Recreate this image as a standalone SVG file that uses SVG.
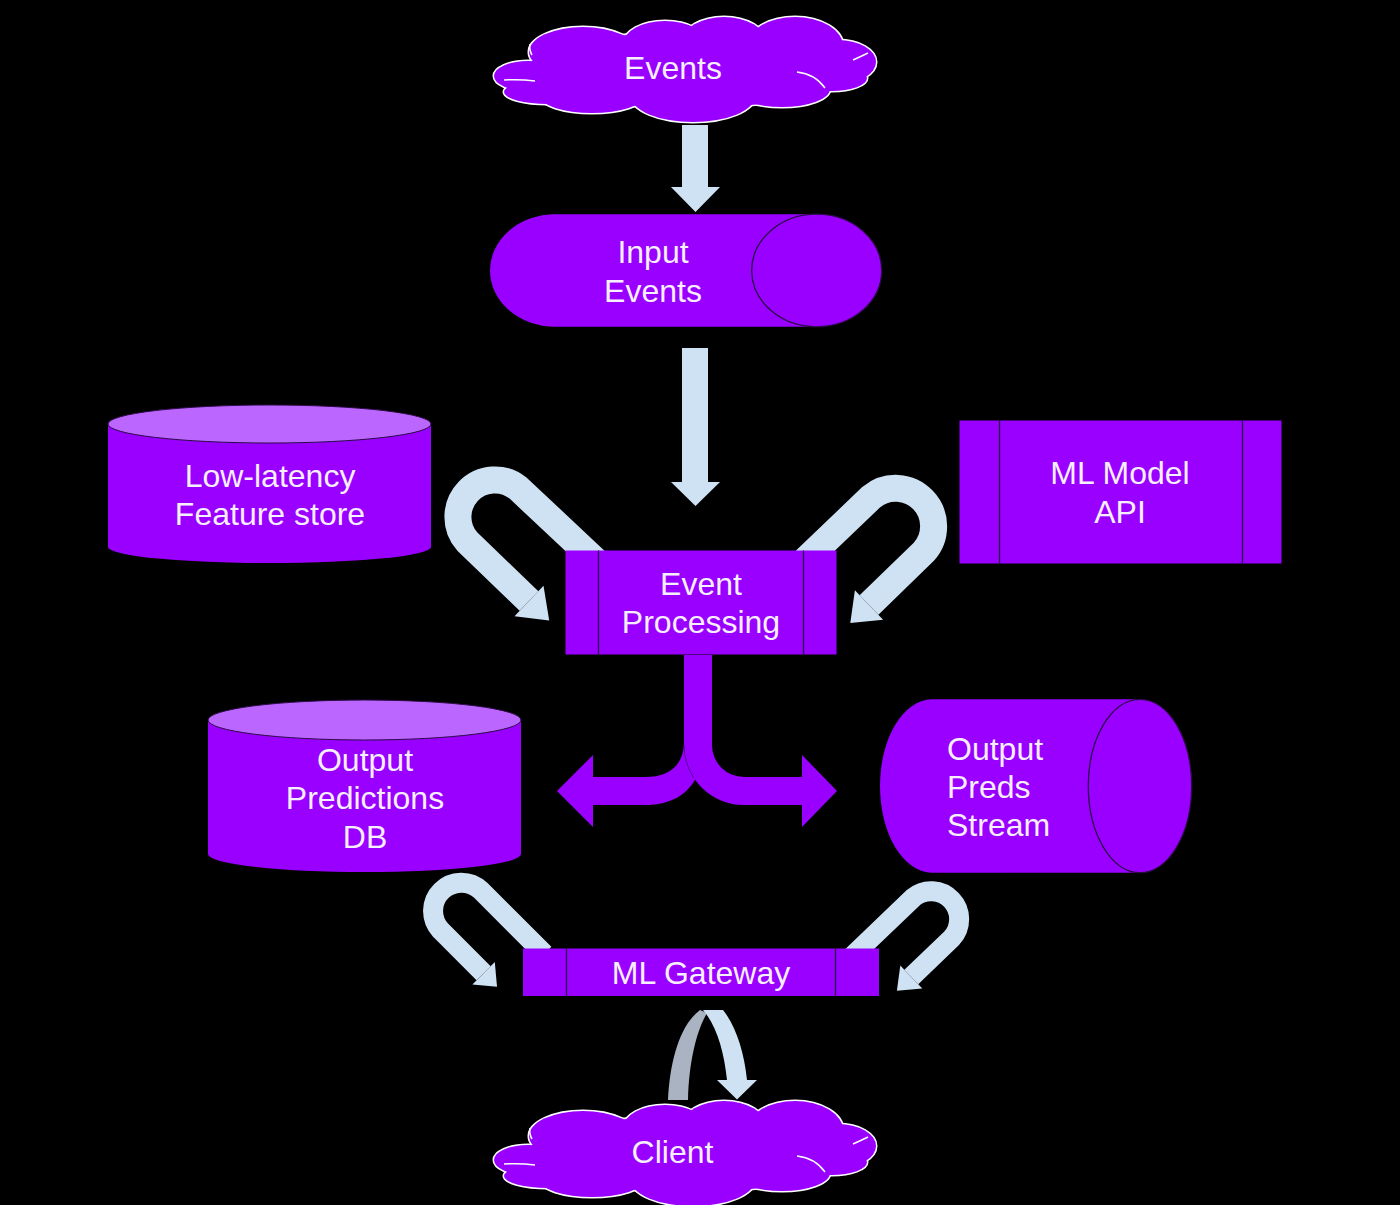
<svg xmlns="http://www.w3.org/2000/svg" xmlns:xlink="http://www.w3.org/1999/xlink" width="1400" height="1205" viewBox="0 0 1400 1205">
<style>
.p{fill:#9900FF}
.top{fill:#BB66FF;stroke:#2b0b45;stroke-width:1}
.edge{fill:none;stroke:#2b0b45;stroke-width:1.3}
.lt{fill:#CFE2F3}
.band{fill:none;stroke:#CFE2F3;stroke-linecap:butt;stroke-linejoin:round}
.t{font-family:"Liberation Sans",Arial,sans-serif;font-size:32px;fill:#F7EEFF;text-anchor:middle}
.tl{font-family:"Liberation Sans",Arial,sans-serif;font-size:32px;fill:#F7EEFF;text-anchor:start}
.cloudline{fill:none;stroke:#FFFFFF;stroke-width:1.5}
</style>
<defs>
<g id="cloudShape">
<ellipse cx="528" cy="76" rx="34" ry="15"/>
<ellipse cx="548" cy="92" rx="44" ry="12"/>
<ellipse cx="583" cy="52" rx="54" ry="25"/>
<ellipse cx="665" cy="44" rx="42" ry="23"/>
<ellipse cx="724" cy="42" rx="42" ry="25"/>
<ellipse cx="795" cy="46" rx="48" ry="29"/>
<ellipse cx="838" cy="62" rx="38" ry="22"/>
<ellipse cx="832" cy="78" rx="35" ry="13"/>
<ellipse cx="782" cy="89" rx="48" ry="18"/>
<ellipse cx="693" cy="96" rx="62" ry="26"/>
<ellipse cx="592" cy="96" rx="52" ry="17"/>
<ellipse cx="688" cy="70" rx="160" ry="38"/>
</g>
<g id="cloud">
<use xlink:href="#cloudShape" href="#cloudShape" fill="#FFFFFF" stroke="#FFFFFF" stroke-width="3"/>
<use xlink:href="#cloudShape" href="#cloudShape" fill="#9900FF"/>
<path class="cloudline" d="M797,72 Q815,74 825,88"/>
<path class="cloudline" d="M853,60 Q862,56 868,53"/>
<path class="cloudline" d="M504,80 Q520,79 535,81"/>
<path class="cloudline" d="M530,44 Q529,50 532,55"/>
</g>
</defs>
<rect x="0" y="0" width="1400" height="1205" fill="#000000"/>

<g id="connectors">
<polygon class="lt" points="682,125 708,125 708,187 720,187 695.5,212 671,187 682,187"/>
<polygon class="lt" points="682,348 708,348 708,482 720,482 695.5,506 671,482 682,482"/>
<g id="uturn-feature">
<path class="band" stroke-width="27" d="M600,565 L518,488 A37 37 0 0 0 467,541.2 L529,601"/>
<polygon class="lt" points="543.5,585.8 549.2,620.4 514.5,616.2"/>
</g>
<g id="uturn-model">
<path class="band" stroke-width="27" d="M792,573 L871.3,497.1 A38 38 0 0 1 923.7,551.9 L869,605"/>
<polygon class="lt" points="854.9,590.2 850.3,623 883.1,619.8"/>
</g>
<g id="split">
<path class="p" d="M684,655 L712,655 L712,745 A32 32 0 0 0 744,777 L802,777 L802,755 L837,791 L802,827 L802,805 L744,805 A60 60 0 0 1 684,745 Z"/>
<path class="p" d="M684,735 C686,765 670,777 645,777 L593,777 L593,755 L557,791 L593,827 L593,805 L645,805 C670,805 688,795 697,776 Z"/>
<path d="M684,745 A60 60 0 0 0 693.9,778" fill="none" stroke="#5a0095" stroke-width="1"/>
</g>
<g id="uturn-db">
<path class="band" stroke-width="20" d="M544.3,953.9 L480.7,890.3 A28.3 28.3 0 0 0 440.7,930.3 L483.6,973.3"/>
<polygon class="lt" points="494.8,962.1 497,986.7 472.4,984.5"/>
</g>
<g id="uturn-stream">
<path class="band" stroke-width="20" d="M852,956.4 L913.2,897.7 A28 28 0 0 1 951.8,938.1 L911.3,977"/>
<polygon class="lt" points="900.3,965.5 896.9,990.8 922.3,988.5"/>
</g>
<g id="gateway-client">
<path fill="#A9B3C1" d="M668,1100 C670,1060 680,1025 700,1010 L707,1013 C697,1030 689,1060 688,1100 Z"/>
<path class="lt" d="M703,1010 L723,1010 C735,1025 744,1050 747,1080 L757,1080 L737,1099.5 L717,1080 L727,1080 C724,1050 716,1025 703,1010 Z"/>
</g>
</g>

<g id="events">
<use xlink:href="#cloud" href="#cloud"/>
<text class="t" x="673" y="79">Events</text>
</g>

<g id="input-events">
<path class="p" d="M816.7,214.2 L555,214.2 A65 56.3 0 0 0 555,326.8 L816.7,326.8 Z"/>
<ellipse class="p" cx="816.7" cy="270.5" rx="65" ry="56.3"/>
<ellipse class="edge" cx="816.7" cy="270.5" rx="65" ry="56.3"/>
<text class="t" x="653" y="263">Input</text>
<text class="t" x="653" y="301.5">Events</text>
</g>

<g id="feature-store">
<path class="p" d="M108,424 L108,547 A161.5 16 0 0 0 431,547 L431,424 Z"/>
<ellipse class="top" cx="269.5" cy="424" rx="161.5" ry="19"/>
<text class="t" x="270" y="487">Low-latency</text>
<text class="t" x="270" y="525">Feature store</text>
</g>

<g id="ml-model-api">
<rect class="p" x="959.5" y="420.5" width="322" height="143"/>
<line class="edge" x1="999.5" y1="420.5" x2="999.5" y2="563.5"/>
<line class="edge" x1="1242.5" y1="420.5" x2="1242.5" y2="563.5"/>
<text class="t" x="1120" y="484">ML Model</text>
<text class="t" x="1120" y="523">API</text>
</g>

<g id="event-processing">
<rect class="p" x="565.5" y="550.5" width="271" height="104"/>
<line class="edge" x1="598.5" y1="550.5" x2="598.5" y2="654.5"/>
<line class="edge" x1="803.5" y1="550.5" x2="803.5" y2="654.5"/>
<text class="t" x="701" y="595">Event</text>
<text class="t" x="701" y="633">Processing</text>
</g>

<g id="output-db">
<path class="p" d="M208,720 L208,854 A156.5 18 0 0 0 521,854 L521,720 Z"/>
<ellipse class="top" cx="364.5" cy="720" rx="156.5" ry="20"/>
<text class="t" x="365" y="771">Output</text>
<text class="t" x="365" y="809">Predictions</text>
<text class="t" x="365" y="848">DB</text>
</g>

<g id="output-stream">
<path class="p" d="M1140,699.3 L932,699.3 A52 86.7 0 0 0 932,872.7 L1140,872.7 Z"/>
<ellipse class="p" cx="1140" cy="786" rx="51.7" ry="86.7"/>
<ellipse class="edge" cx="1140" cy="786" rx="51.7" ry="86.7"/>
<text class="tl" x="947" y="760">Output</text>
<text class="tl" x="947" y="797.5">Preds</text>
<text class="tl" x="947" y="836">Stream</text>
</g>

<g id="ml-gateway">
<rect class="p" x="523" y="948.5" width="356" height="47.5"/>
<line class="edge" x1="566.5" y1="948.5" x2="566.5" y2="996"/>
<line class="edge" x1="835.5" y1="948.5" x2="835.5" y2="996"/>
<text class="t" x="701" y="984">ML Gateway</text>
</g>

<g id="client">
<use xlink:href="#cloud" href="#cloud" transform="translate(0,1084)"/>
<text class="t" x="672.5" y="1163">Client</text>
</g>
</svg>
